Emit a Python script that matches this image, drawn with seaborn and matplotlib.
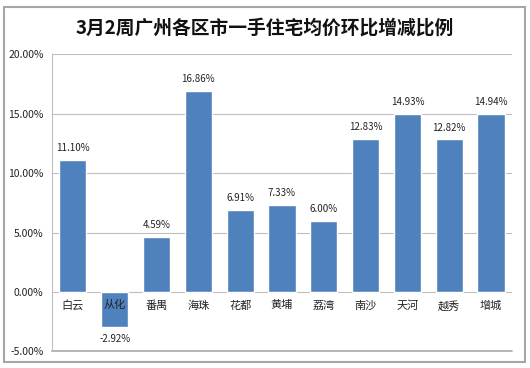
"""
Weekly price change by district, bar chart
"""

import matplotlib.pyplot as plt
import matplotlib.ticker as mticker
from matplotlib.lines import Line2D
import pandas as pd
import seaborn as sns

districts = ['白云', '从化', '番禺', '海珠', '花都', '黄埔', '荔湾', '南沙', '天河', '越秀', '增城']
change_pct = [11.10, -2.92, 4.59, 16.86, 6.91, 7.33, 6.00, 12.83, 14.93, 12.82, 14.94]
y_ticks = [-5, 0, 5, 10, 15, 20]

sns.set_style('white')
plt.rcParams['font.family'] = ['Noto Sans CJK SC', 'DejaVu Sans']

df = pd.DataFrame({'district': districts, 'change': change_pct})

fig = plt.figure(figsize=(5.3, 3.68), dpi=100)
ax = fig.add_axes([0.098, 0.045, 0.868, 0.808])

sns.barplot(data=df, x='district', y='change', color='#4F81BD',
            saturation=1, width=0.65, ax=ax, zorder=3)

# value labels
labels = [f'{v:.2f}%' for v in change_pct]
ax.bar_label(ax.containers[0], labels=labels, padding=5, fontsize=7, color='#222222')

ax.set_ylim(-5, 20)
ax.set_yticks(y_ticks)
ax.yaxis.set_major_formatter(mticker.FuncFormatter(lambda v, _: f'{v:.2f}%'))
ax.tick_params(axis='y', labelsize=7.5, length=0, pad=6, colors='#222222')
ax.grid(axis='y', color='#BFBFBF', linewidth=0.8, zorder=0)
ax.set_axisbelow(True)
ax.set_xlabel('')
ax.set_ylabel('')

# category labels sit right under the zero line, drawn over the bars
ax.set_xticks(range(len(districts)))
ax.set_xticklabels([])
ax.tick_params(axis='x', length=0)
for i, name in enumerate(districts):
    ax.annotate(name, (i, 0), xytext=(0, -6), textcoords='offset points',
                ha='center', va='top', fontsize=8, color='#222222', zorder=5)

ax.spines['left'].set_color('#BFBFBF')
ax.spines['left'].set_linewidth(0.8)
for side in ['top', 'right', 'bottom']:
    ax.spines[side].set_visible(False)
ax.set_xlim(-0.5, len(districts) - 0.5)

# bottom edge line at -5%, drawn at figure level so nothing hides it
fig.add_artist(Line2D([0, 1], [0, 0], transform=ax.transAxes,
                      color='#AFAFAF', linewidth=1.3, zorder=10))

fig.text(0.5, 0.925, '3月2周广州各区市一手住宅均价环比增减比例',
         ha='center', va='center', fontsize=13.5, fontweight='bold', color='#111111')

# chart border
border = plt.Rectangle((0.007, 0.016), 0.984, 0.965, transform=fig.transFigure,
                       fill=False, edgecolor='#A6A6A6', linewidth=1.5)
fig.patches.append(border)

plt.savefig('out.png', dpi=100)
plt.close()
